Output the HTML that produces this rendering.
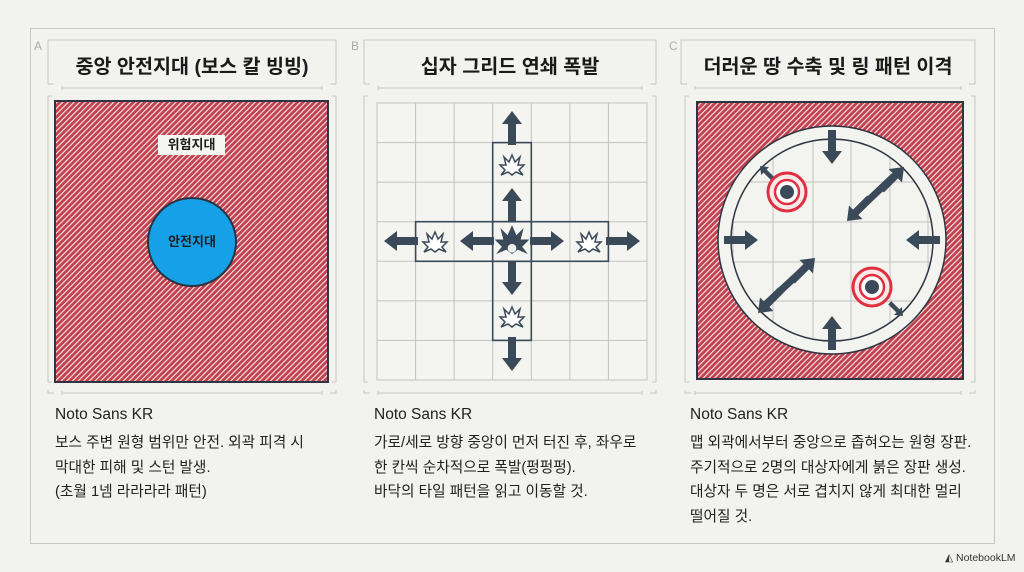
<!DOCTYPE html>
<html><head><meta charset="utf-8"><style>
html,body{margin:0;padding:0;background:#f2f2ee;}
body{width:1024px;height:572px;overflow:hidden;position:relative;font-family:"Liberation Sans","Noto Sans CJK KR",sans-serif;color:#1d1d1d}
svg{position:absolute;left:0;top:0}
.t{position:absolute;font-size:14.7px;line-height:24.5px;color:#222}
.f{position:absolute;font-size:15.5px;color:#222}
.h{position:absolute;font-weight:bold;font-size:19.6px;text-align:center;color:#1a1a1a}
</style></head><body>
<svg width="1024" height="572" viewBox="0 0 1024 572">
<defs>
<pattern id="hat" width="4" height="4" patternUnits="userSpaceOnUse" patternTransform="rotate(45)">
<rect width="4" height="4" fill="#c2404e"/><rect width="1.2" height="4" fill="#f3dfe0"/>
</pattern>
<path id="ar" d="M0,0 L10,13 L4,13 L4,34 L-4,34 L-4,13 L-10,13 Z" fill="#3b4a58"/>
<path id="burst" d="M0,-11 L3,-4 L8,-9 L6,-1 L12,-1 L7,4 L11,9 L4,6 L0,9 L-4,6 L-11,9 L-7,4 L-12,-1 L-6,-1 L-8,-9 L-3,-4 Z" fill="#fff" stroke="#3b4a58" stroke-width="1.5"/>
</defs>
<rect x="30.5" y="28.5" width="964" height="515" fill="none" stroke="#c9c9c4"/>
<g fill="none" stroke="#c6c6c1" stroke-width="1">
<path d="M48,84 V40 H336 V84 M48,84 H54 M330,84 H336 M62,86 V90 M62,88 H322 M322,86 V90"/>
<path d="M364,84 V40 H656 V84 M364,84 H370 M650,84 H656 M378,86 V90 M378,88 H642 M642,86 V90"/>
<path d="M681,84 V40 H975 V84 M681,84 H687 M969,84 H975 M695,86 V90 M695,88 H961 M961,86 V90"/>
<path d="M52,96 H48 V382 H52 M332,96 H336 V382 H332 M48,390 V393 H54 M336,390 V393 H330 M62,391 V395 M62,393 H322 M322,391 V395"/>
<path d="M368,96 H364 V382 H368 M652,96 H656 V382 H652 M364,390 V393 H370 M656,390 V393 H650 M378,391 V395 M378,393 H642 M642,391 V395"/>
<path d="M689,96 H685 V382 H689 M971,96 H975 V382 H971 M685,390 V393 H691 M975,390 V393 H969 M695,391 V395 M695,393 H961 M961,391 V395"/>
</g>
<text x="34" y="50" font-family="Liberation Sans" font-size="12" fill="#aaa">A</text>
<text x="351" y="50" font-family="Liberation Sans" font-size="12" fill="#aaa">B</text>
<text x="669" y="50" font-family="Liberation Sans" font-size="12" fill="#aaa">C</text>

<rect x="55" y="101" width="273" height="281" fill="url(#hat)" stroke="#2f3540" stroke-width="2"/>
<rect x="158" y="135" width="67" height="20" fill="#f5f5f2"/>
<circle cx="192" cy="242" r="44" fill="#16a0e8" stroke="#2a3340" stroke-width="2"/>

<g stroke="#c2c2c0" stroke-width="1" fill="none">
<rect x="377" y="103" width="270" height="277" fill="#f4f4f1"/>
<path d="M415.6,103V380M454.1,103V380M492.7,103V380M531.3,103V380M569.9,103V380M608.4,103V380"/>
<path d="M377,142.6H647M377,182.1H647M377,221.7H647M377,261.3H647M377,300.9H647M377,340.4H647"/>
</g>
<g fill="none" stroke="#3b4a58" stroke-width="1.6">
<rect x="492.7" y="142.6" width="38.6" height="79.1"/>
<rect x="492.7" y="261.3" width="38.6" height="79.1"/>
<rect x="415.6" y="221.7" width="77.1" height="39.6"/>
<rect x="531.3" y="221.7" width="77.1" height="39.6"/>
<rect x="492.7" y="221.7" width="38.6" height="39.6"/>
</g>
<use href="#burst" x="512" y="166"/>
<use href="#burst" x="512" y="318"/>
<use href="#burst" x="435" y="243"/>
<use href="#burst" x="589" y="243"/>
<g transform="translate(512,241) scale(1.45)"><path d="M0,-11 L3,-4 L8,-9 L6,-1 L12,-1 L7,4 L11,9 L4,6 L0,9 L-4,6 L-11,9 L-7,4 L-12,-1 L-6,-1 L-8,-9 L-3,-4 Z" fill="#3b4a58"/><circle cx="0" cy="5" r="3" fill="#eee"/></g>
<use href="#ar" transform="translate(512,111)"/>
<use href="#ar" transform="translate(512,188)"/>
<use href="#ar" transform="translate(512,295) rotate(180)"/>
<use href="#ar" transform="translate(512,371) rotate(180)"/>
<use href="#ar" transform="translate(384,241) rotate(-90)"/>
<use href="#ar" transform="translate(460,241) rotate(-90)"/>
<use href="#ar" transform="translate(564,241) rotate(90)"/>
<use href="#ar" transform="translate(640,241) rotate(90)"/>

<rect x="697" y="102" width="266" height="277" fill="url(#hat)" stroke="#2f3540" stroke-width="2"/>
<circle cx="832" cy="240" r="114" fill="#f3f3f0" stroke="#2f3540" stroke-width="1.5"/>
<clipPath id="ic"><circle cx="832" cy="240" r="101"/></clipPath>
<g clip-path="url(#ic)" stroke="#c2c2c0" fill="none">
<path d="M733,100V380M773,100V380M813,100V380M851,100V380M890,100V380M928,100V380"/>
<path d="M700,140H965M700,182H965M700,222H965M700,262H965M700,301H965M700,340H965"/>
</g>
<circle cx="832" cy="240" r="101" fill="none" stroke="#2f3540" stroke-width="1.5"/>
<use href="#ar" transform="translate(832,164) rotate(180)"/>
<use href="#ar" transform="translate(832,316)"/>
<use href="#ar" transform="translate(758,240) rotate(90)"/>
<use href="#ar" transform="translate(906,240) rotate(-90)"/>
<g stroke="#3b4a58" stroke-width="7" fill="#3b4a58">
<line x1="856" y1="212" x2="894" y2="176"/>
<line x1="766" y1="304" x2="806" y2="267"/>
</g>
<use href="#ar" transform="translate(904,167) rotate(45) scale(0.95)"/>
<use href="#ar" transform="translate(847,221) rotate(225) scale(0.95)"/>
<use href="#ar" transform="translate(815,258) rotate(45) scale(0.95)"/>
<use href="#ar" transform="translate(758,313) rotate(225) scale(0.95)"/>
<use href="#ar" transform="translate(760,166) rotate(-45) scale(0.55)"/>
<use href="#ar" transform="translate(903,316) rotate(135) scale(0.55)"/>
<g>
<circle cx="787" cy="192" r="19" fill="#fbe9ea" stroke="#e0303f" stroke-width="3"/>
<circle cx="787" cy="192" r="12" fill="#fff" stroke="#e0303f" stroke-width="2.5"/>
<circle cx="787" cy="192" r="7" fill="#3b4a58"/>
<circle cx="872" cy="287" r="19" fill="#fbe9ea" stroke="#e0303f" stroke-width="3"/>
<circle cx="872" cy="287" r="12" fill="#fff" stroke="#e0303f" stroke-width="2.5"/>
<circle cx="872" cy="287" r="7" fill="#3b4a58"/>
</g>
</svg>

<div class="h" style="left:48px;width:288px;top:50px">중앙 안전지대 (보스 칼 빙빙)</div>
<div class="h" style="left:364px;width:292px;top:50px">십자 그리드 연쇄 폭발</div>
<div class="h" style="left:681px;width:294px;top:50px">더러운 땅 수축 및 링 패턴 이격</div>
<div style="position:absolute;left:158px;width:67px;top:135px;font-size:13px;font-weight:bold;text-align:center;line-height:20px">위험지대</div>
<div style="position:absolute;left:148px;width:88px;top:232px;font-size:13px;font-weight:bold;text-align:center;line-height:20px">안전지대</div>

<div class="f" style="left:55px;top:406px">Noto Sans KR</div>
<div class="t" style="left:55px;top:431px">보스 주변 원형 범위만 안전. 외곽 피격 시<br>막대한 피해 및 스턴 발생.<br>(초월 1넴 라라라라 패턴)</div>
<div class="f" style="left:374px;top:406px">Noto Sans KR</div>
<div class="t" style="left:374px;top:431px">가로/세로 방향 중앙이 먼저 터진 후, 좌우로<br>한 칸씩 순차적으로 폭발(펑펑펑).<br>바닥의 타일 패턴을 읽고 이동할 것.</div>
<div class="f" style="left:690px;top:406px">Noto Sans KR</div>
<div class="t" style="left:690px;top:431px">맵 외곽에서부터 중앙으로 좁혀오는 원형 장판.<br>주기적으로 2명의 대상자에게 붉은 장판 생성.<br>대상자 두 명은 서로 겹치지 않게 최대한 멀리<br>떨어질 것.</div>
<div style="position:absolute;left:945px;top:552px;font-size:10.5px;color:#333">◭ NotebookLM</div>
</body></html>
